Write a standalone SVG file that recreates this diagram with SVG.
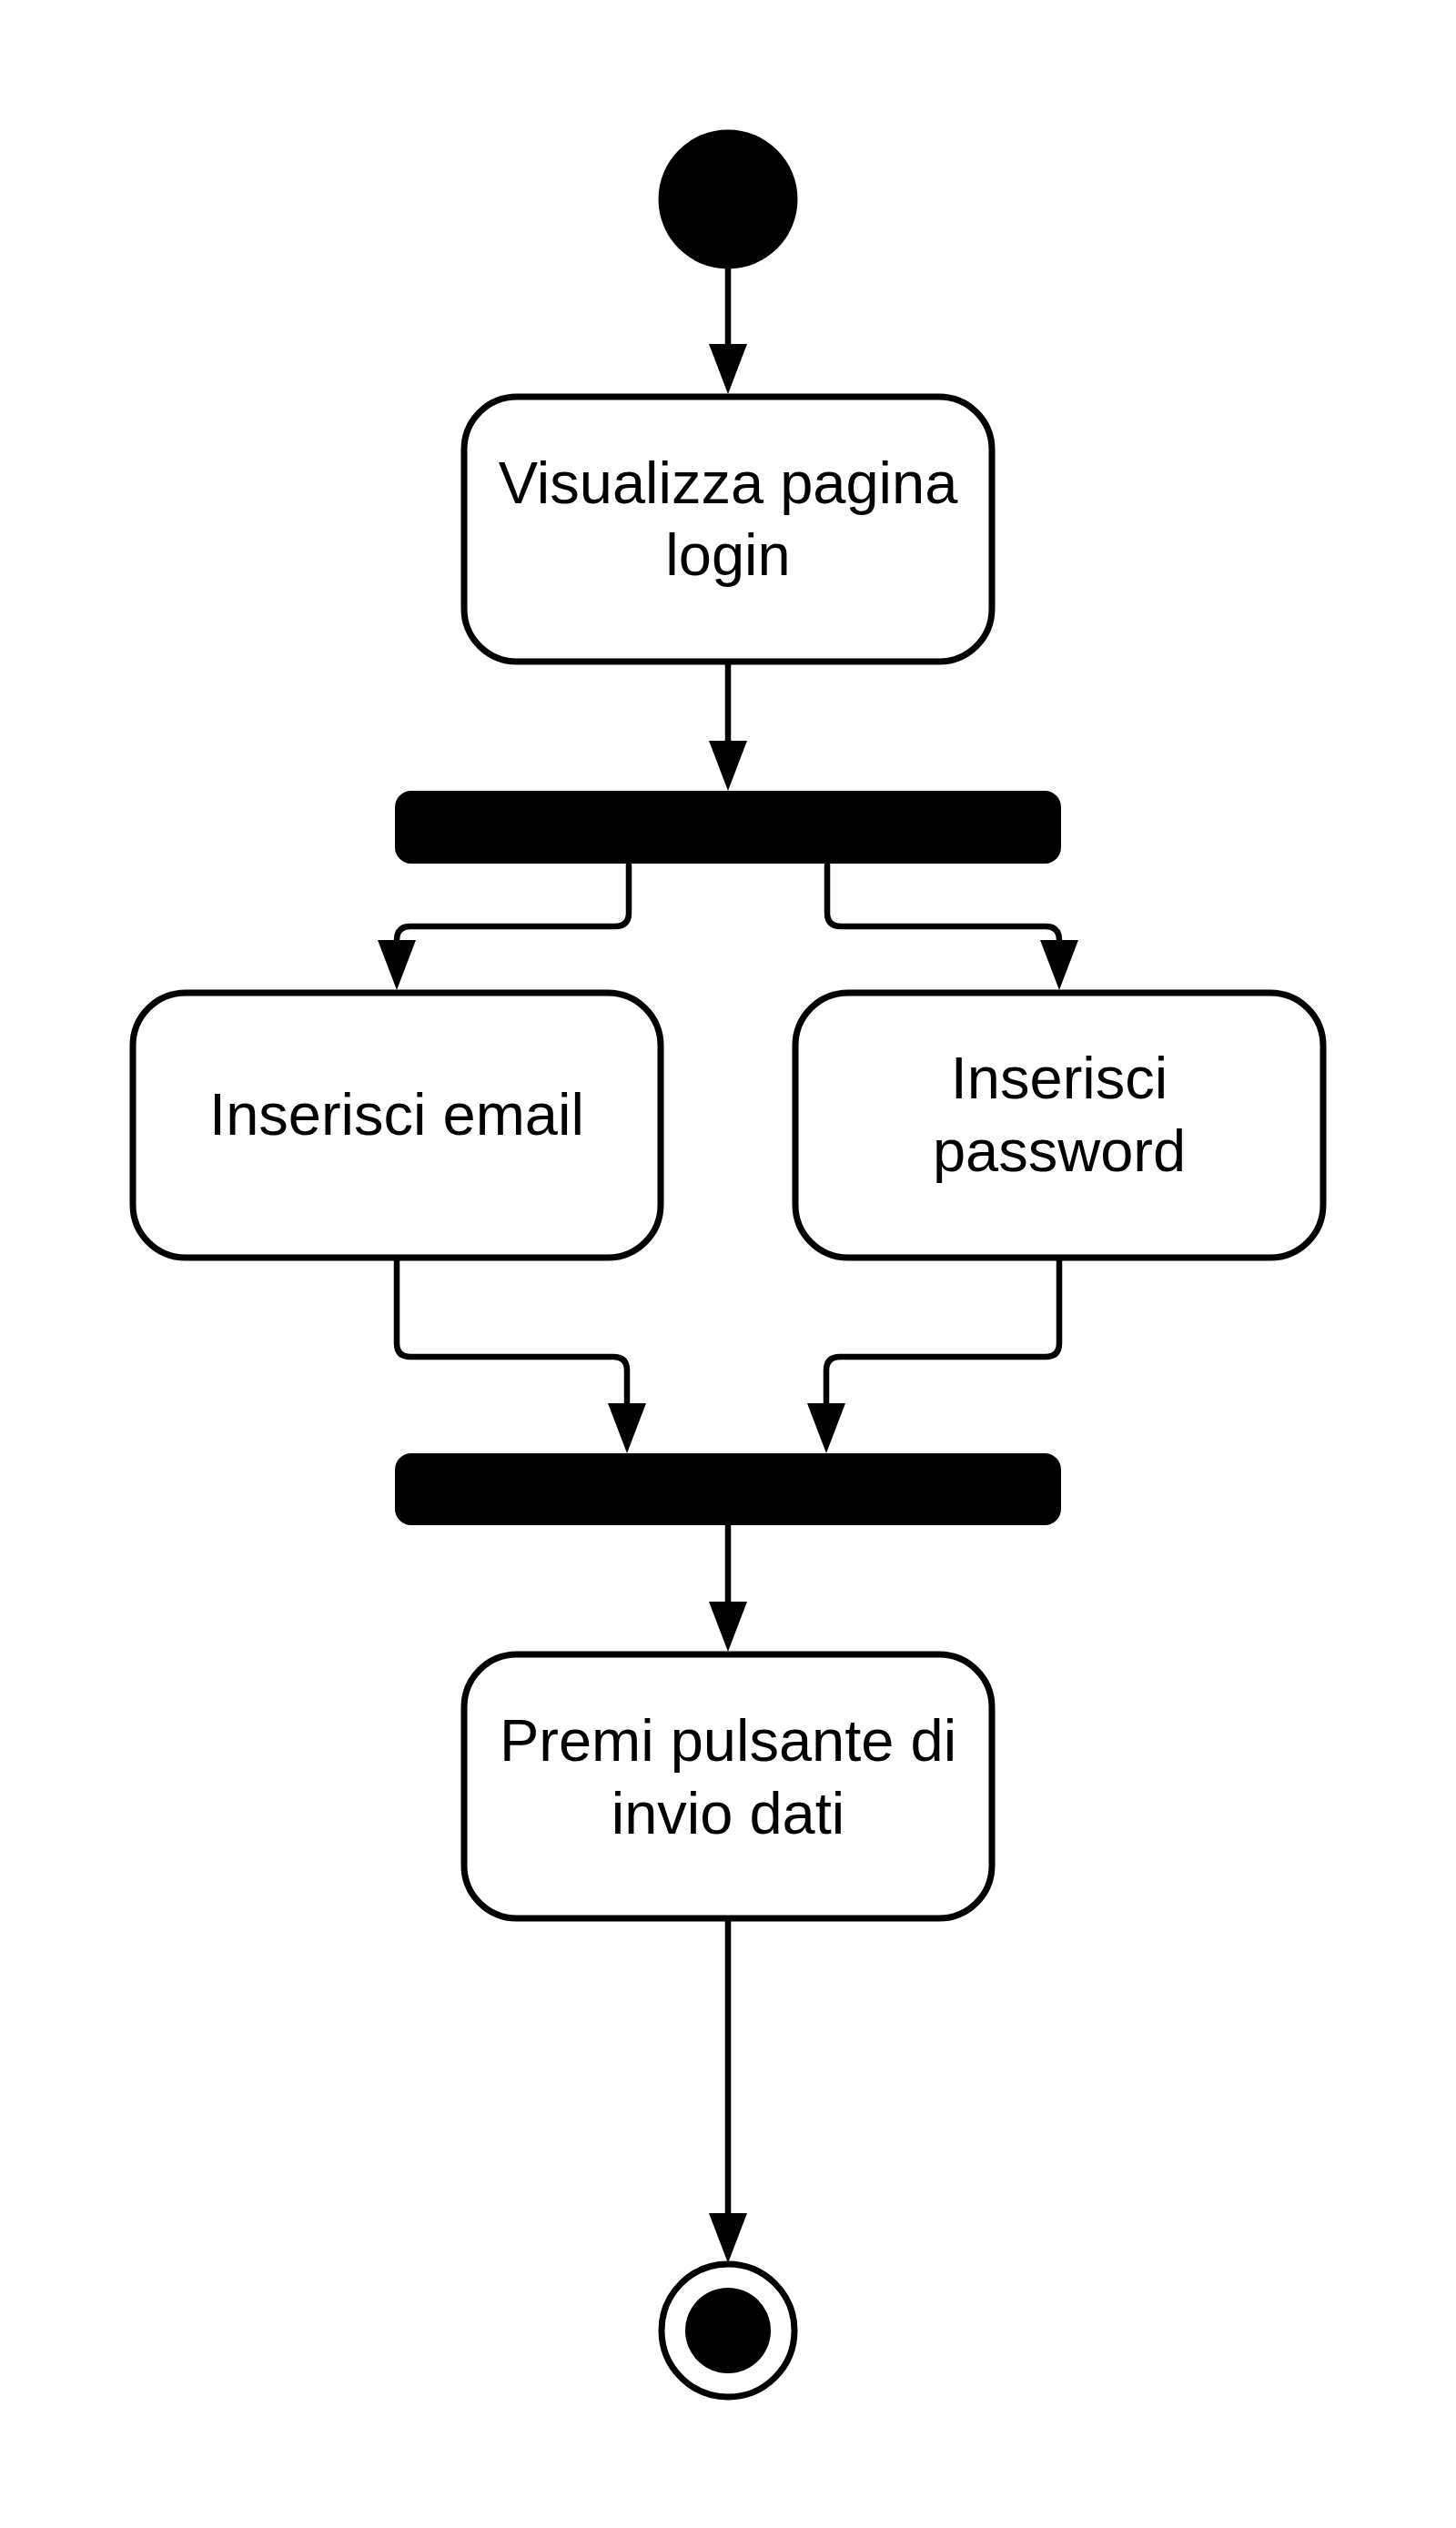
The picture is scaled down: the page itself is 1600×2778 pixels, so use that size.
<svg xmlns="http://www.w3.org/2000/svg" width="1600" height="2778" viewBox="0 0 1600 2778">
<style>
.act{fill:#fff;stroke:#000;stroke-width:7}
.bar{fill:#000}
.lbl{font-family:"Liberation Sans",Arial,sans-serif;font-size:65px;fill:#000;text-anchor:middle}
.conn{fill:none;stroke:#000;stroke-width:6.5;marker-end:url(#arr)}
</style>
<defs>
<marker id="arr" viewBox="0 -21 55 42" refX="10" refY="0" markerWidth="55" markerHeight="42" markerUnits="userSpaceOnUse" orient="auto">
<path d="M0,-21 L55,0 L0,21 z" fill="#000"/>
</marker>
</defs>
<rect width="1600" height="2778" fill="#fff"/>
<g id="connectors">
<path class="conn" d="M800,295 V388"/>
<path class="conn" d="M800,727 V824"/>
<path class="conn" d="M691,949 V1003 Q691,1018 676,1018 H451 Q436,1018 436,1033 V1043"/>
<path class="conn" d="M909,949 V1003 Q909,1018 924,1018 H1149 Q1164,1018 1164,1033 V1043"/>
<path class="conn" d="M436,1383 V1476 Q436,1491 451,1491 H674 Q689,1491 689,1506 V1552"/>
<path class="conn" d="M1164,1383 V1476 Q1164,1491 1149,1491 H923 Q908,1491 908,1506 V1552"/>
<path class="conn" d="M800,1676 V1770"/>
<path class="conn" d="M800,2108 V2442"/>
</g>
<g id="start"><circle cx="800" cy="219" r="76.5" fill="#000"/></g>
<g id="visualizza">
<rect class="act" x="510" y="436" width="580" height="291" rx="58"/>
<text class="lbl" x="800" y="553">Visualizza pagina</text>
<text class="lbl" x="800" y="632">login</text>
</g>
<g id="fork"><rect class="bar" x="434" y="869" width="732" height="80" rx="18"/></g>
<g id="email">
<rect class="act" x="146" y="1091" width="580" height="291" rx="58"/>
<text class="lbl" x="436" y="1247">Inserisci email</text>
</g>
<g id="password">
<rect class="act" x="874" y="1091" width="580" height="291" rx="58"/>
<text class="lbl" x="1164" y="1207">Inserisci</text>
<text class="lbl" x="1164" y="1287">password</text>
</g>
<g id="join"><rect class="bar" x="434" y="1597" width="732" height="79" rx="18"/></g>
<g id="premi">
<rect class="act" x="510" y="1818" width="580" height="290" rx="58"/>
<text class="lbl" x="800" y="1935">Premi pulsante di</text>
<text class="lbl" x="800" y="2015">invio dati</text>
</g>
<g id="end">
<circle cx="800" cy="2561" r="73" fill="#fff" stroke="#000" stroke-width="7"/>
<circle cx="800" cy="2561" r="47" fill="#000"/>
</g>
</svg>
